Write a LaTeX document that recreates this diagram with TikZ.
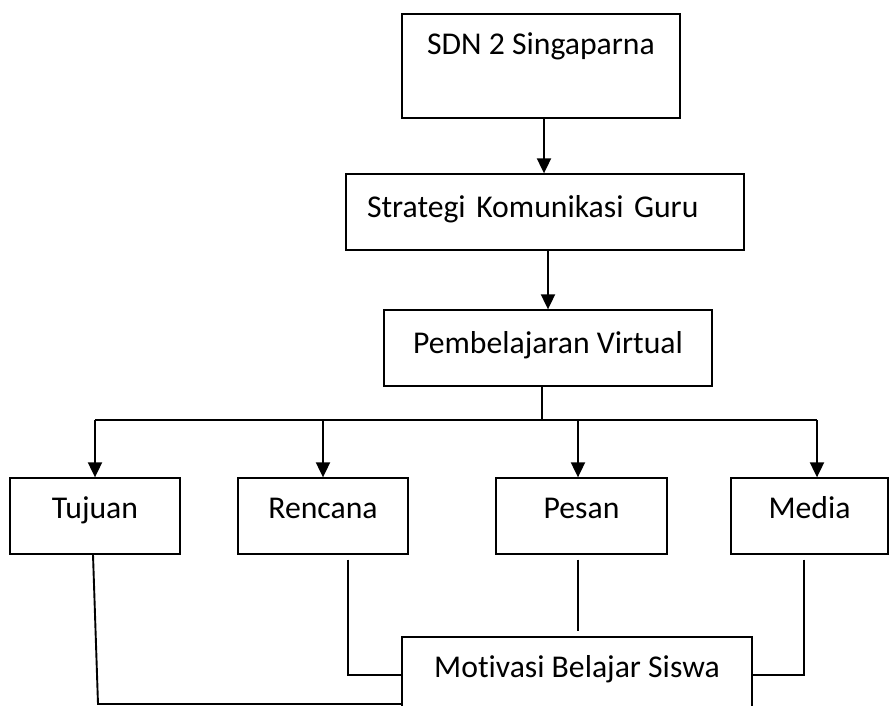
\documentclass[tikz,border=0pt]{standalone}
\usepackage{fontspec}
\setmainfont{Carlito}[Ligatures=NoCommon]
\usetikzlibrary{arrows.meta}
\usetikzlibrary{calc}

\begin{document}
\begin{tikzpicture}[x=1pt, y=-1pt,
    box/.style={draw, line width=1.3pt, inner sep=0pt, text height=40pt, text depth=36pt,
        font=\fontsize{31.7}{38}\selectfont},
    link/.style={line width=1.9pt},
    arrow/.style={link, -{Triangle[length=15pt, width=14pt]}}]
            % Fix the size of the page
            \useasboundingbox (0,0) rectangle (889,706);
            % Boxes of the top column
            \node[box, minimum width=278pt, text height=41pt, text depth=63pt] (sdn) at (541,66) {SDN 2 Singaparna};
            \node[box, inner xsep=21pt, text width=356pt, align=left, text height=43pt, text depth=33pt] (strategi) at (545,212) {Strategi Komunikasi Guru};
            \node[box, minimum width=328pt, text height=43pt, text depth=33pt] (virtual) at (548,348) {Pembelajaran Virtual};
            % Boxes of the row
            \node[box, minimum width=170pt] (tujuan) at (95,516) {Tujuan};
            \node[box, minimum width=170pt] (rencana) at (323,516) {Rencana};
            \node[box, minimum width=171pt] (pesan) at (581.5,516) {Pesan};
            \node[box, minimum width=157pt] (media) at (809.5,516) {Media};
            % Bottom box
            \node[box, minimum width=350pt] (motivasi) at (577,675) {Motivasi Belajar Siswa};

            % Arrows down the column
            \draw[arrow] (sdn.south -| 544,0) -- (strategi.north -| 544,0); % SDN -> Strategi
            \draw[arrow] (strategi.south -| virtual) -- (virtual.north); % Strategi -> Virtual
            % Split line
            \coordinate (split) at (542,420);
            \coordinate (pesanin) at ([xshift=-3.5pt]pesan.north);
            \coordinate (mediain) at ([xshift=7.5pt]media.north);
            \draw[link] (virtual.south -| split) -- (split);
            \draw[link] (tujuan.north |- split) -- (mediain |- split);
            \foreach \b in {tujuan.north, rencana.north, pesanin, mediain} {
                \draw[arrow] (\b |- split) -- (\b);
            }

            % Lines to the bottom box
            \coordinate (tujuanbot) at (98,704);
            \draw[link] ([xshift=-2pt]tujuan.south) -- (tujuanbot) -- (tujuanbot -| motivasi.west); % Tujuan
            \draw[link] ([shift={(25,5)}]rencana.south) |- (motivasi.west); % Rencana
            \draw[link] ([shift={(-3.5,5)}]pesan.south) -- ([shift={(-3.5,-5)}]pesan.south |- motivasi.north); % Pesan
            \draw[link] ([shift={(-5.5,5)}]media.south) |- (motivasi.east); % Media
        \end{tikzpicture}
\end{document}
